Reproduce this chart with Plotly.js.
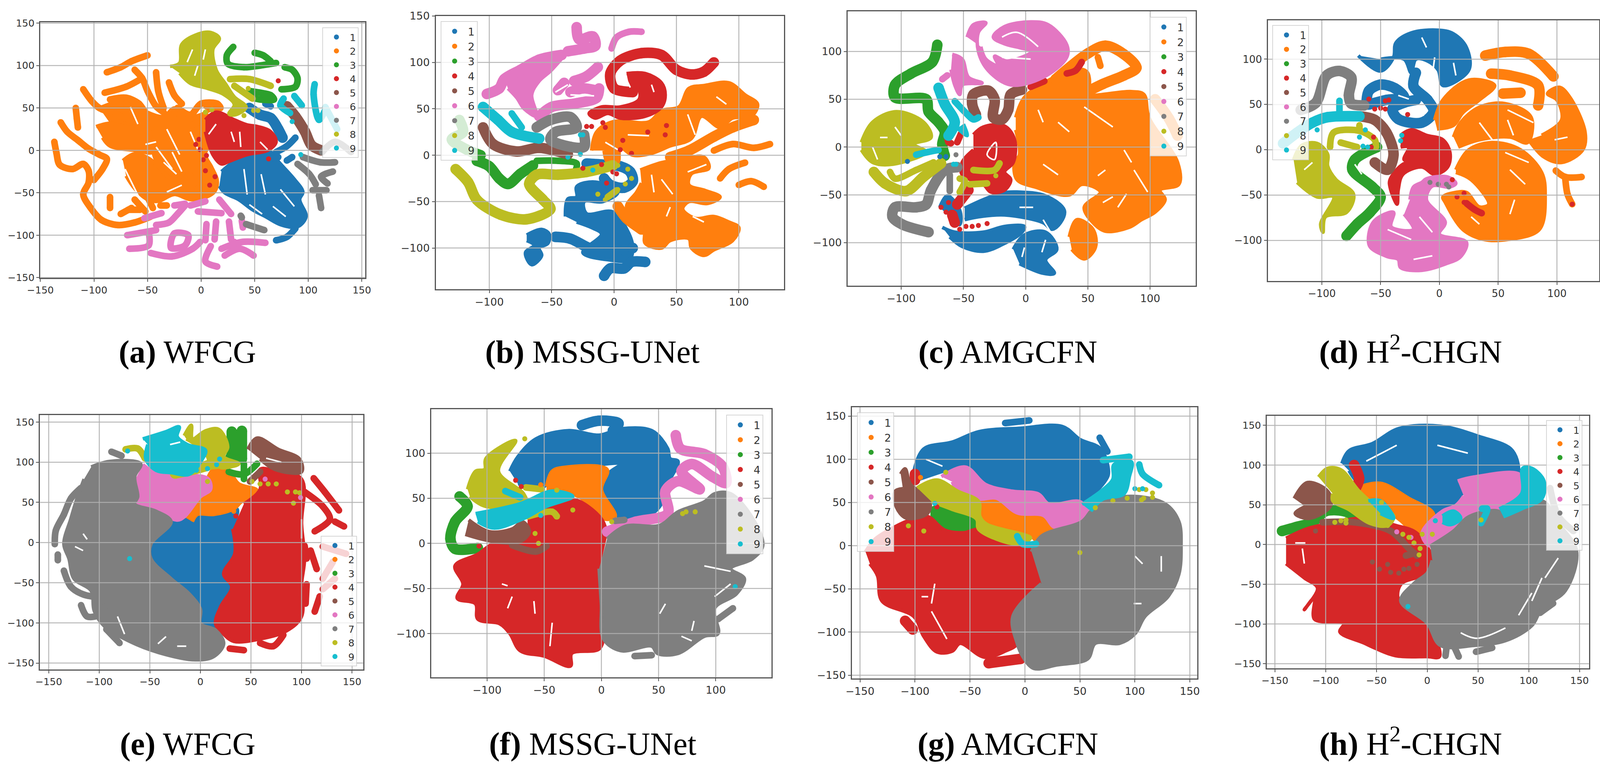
<!DOCTYPE html>
<html><head><meta charset="utf-8"><script src="https://cdn.plot.ly/plotly-3.0.1.min.js"></script>
<style>html,body{margin:0;padding:0;background:#fff;overflow:hidden}</style></head><body><div id="g"></div>
<script>
const classes=['1','2','3','4','5','6','7','8','9'];
const captions=['<b>(a)</b> WFCG','<b>(b)</b> MSSG-UNet','<b>(c)</b> AMGCFN','<b>(d)</b> H<sup>2</sup>-CHGN','<b>(e)</b> WFCG','<b>(f)</b> MSSG-UNet','<b>(g)</b> AMGCFN','<b>(h)</b> H<sup>2</sup>-CHGN'];
// ---- per panel, per class (index 0..8): outlines of solid regions, thick strands, thin strands, single points; Gaps = empty slits inside regions
const aAreas=[[[19,-25,31,-13,50,-2,65,-2,72,-13,87,-34,95,-49,92,-58,98,-78,90,-90,75,-88,60,-78,48,-70,35,-58,22,-50,17,-42]],
[[-73,-12,-62,-4,-48,-10,-38,-22,-25,-35,-18,-30,-12,-15,-5,10,3,25,8,10,4,-5,10,-20,15,-35,13,-48,5,-55,-10,-58,-25,-52,-40,-60,-50,-58,-62,-45,-70,-30],[-98,28,-85,32,-70,28,-55,25,-45,12,-45,-2,-62,0,-85,5,-92,15],[-50,45,-35,40,-25,50,-10,40,5,45,15,55,18,50,5,45,5,30,3,25,-5,10,-12,-15,-18,-30,-25,-35,-38,-22,-45,-2,-48,25],[-95,50,-75,58,-62,55,-52,45,-48,25,-70,28,-85,32]],
[],[[4,36,14,45,31,36,43,30,53,28,65,22,70,10,62,0,43,-5,26,-13,19,-16,11,-5,4,22]],[],[],[],
[[-29,99,-20,103,-18,125,-3,137,9,139,17,132,11,119,14,95,23,78,31,63,42,51,32,42,26,43,31,54,21,66,6,73,-10,79,-20,91]],[]];
const aThick=[[[45,50,55,42,65,38,72,25,76,15]],[],[],[],[[80,52,88,40,97,22,103,6,112,0]],[],[],[],[]];
const aRibbons=[[[70,-106,80,-102,88,-92],[60,55,65,52],[70,-2,80,5,88,15],[65,-10,72,-8],[80,-12,85,-8]],
[[-137,10,-135,-3,-132,-17,-120,-22,-110,-16,-105,-24,-105,-38,-110,-52,-103,-68,-93,-82,-78,-88,-62,-85,-47,-78],[-131,33,-125,22,-115,12,-105,2,-95,-5,-88,-10,-92,-22,-100,-35],[-117,50,-116,38,-115,27],[-110,72,-102,58,-95,50,-85,45,-75,40,-65,35],[-88,92,-75,98,-65,105,-50,112],[-90,68,-70,75,-55,85],[-85,60,-70,62,-58,55,-50,40,-42,25],[-62,95,-55,85,-50,70,-42,52,-35,45],[-42,92,-40,70,-35,50],[-30,80,-25,65,-18,55],[-70,55,-62,40,-50,30],[-75,-75,-65,-68],[-85,-55,-85,-68],[-68,-70,-57,-70],[-62,-58,-52,-72],[-50,-55,-45,-68],[-38,-65,-32,-65],[-22,50,-10,42,0,55,15,55,18,50,5,52],[-25,38,-15,20,-12,5],[-8,30,0,35,5,40],[-35,35,-30,15,-28,0],[-20,-5,-10,-30,-3,-45]],
[[30,122,24,112,25,102,40,98,55,100,70,103],[50,115,58,112,65,105],[78,98,85,95,90,85,88,75,75,72],[45,70,55,68,65,65,68,60,55,60,48,62]],
[],[],
[[-53,-80,-37,-74],[-42,-88,-30,-85,-22,-75,-15,-65],[-69,-100,-42,-94],[-67,-116,-49,-112,-49,-96],[-47,-121,-27,-125,-8,-116,-1,-108],[-25,-98,-12,-100,-15,-112,-28,-115,-25,-98],[14,-84,12.6,-105],[5,-87,4,-106],[-3,-72,19,-74],[-10,-65,4,-60],[-25,-65,-15,-63],[17,-58,28,-75],[26,-84,28,-105],[38,-83,39,-91],[19,-116,38,-108,60,-109],[22,-124,36,-116,49,-124],[31,-108,36,-116],[9,-113,4,-131,15,-137]],
[[37,-77,38,-79],[42,-87,59,-94],[95,-8,111,-14,125,-14],[90,-16,101,-28,107,-40],[123,-25,112,-31,118,-39],[104,-47,117,-47],[110,-53,112,-68],[113,-2,125,10,140,-2]],
[[27,84,45,84,65,76],[31,76,48,61]],
[[77,61,74,53,83,44],[87,64,94,53],[106,78,105,66,110,36,116,48],[116,51,127,25]]];
const aDots=[[],[],[],[-5,7,-2,13,-1,1,2,-11,5,-6,4,-24,13,-31,8,-41,63,-10,72,82],[],[],[],[4,45,10,48,40,41,49,47,53,47,44,73],[85,34,93,-5]];
const aGaps=[[-42,4,-27,-22],[-35,-14,-23,-28],[-27,-2,-18,-25],[-52,7,-42,10],[-66,51,-59,31],[-32,25,-20,-5],[-10,22,-3,1],[-71,-22,-57,-58],[-18,-41,-32,-49],[40,-22,43,-52],[56,-28,60,-52],[67,-66,79,-78],[45,-64,57,-75],[74,-46,87,-66],[28,22,31,10],[14,31,7,19],[36,22,37,4],[55,10,62,1],[-8,119,-13,104],[4,119,2,107],[-3,100,-6,88]];

const bAreas=[[[-70,-86,-58,-80,-52,-85,-53,-95,-60,-100,-58,-108,-66,-118,-71,-105,-64,-97,-70,-92],[-39,-66,-37,-47,-30,-45,-30,-34,-20,-29,-8,-31,3,-40,-9,-50,-24,-50,-22,-63,-1,-61,11,-82,15,-100,12,-113,-3,-113,-25,-105,-10,-85,-18,-78,-30,-72]],
[[-18,5,-14,25,-1,36,28,36,38,48,52,52,60,72,72,75,92,78,105,65,115,55,110,42,95,40,85,30,70,42,62,18,45,10,30,2,15,0,5,8,3,-8,-5,-8,-8,5],[21,-16,38,-8,55,-4,72,-2,76,-14,62,-20,60,-32,73,-38,85,-45,75,-52,60,-50,55,-58,65,-68,80,-66,92,-72,100,-78,95,-92,80,-102,72,-108,62,-100,60,-90,45,-92,38,-100,25,-95,24,-82,15,-70,10,-55,18,-40,22,-30]],
[],[[10,88,25,88,38,78,41,65,38,52,25,42,5,40,-5,45,-15,40,-20,45,-10,52,5,52,20,60,20,70,12,75]],[],
[[-88,82,-60,105,-40,110,-50,92,-60,80,-66,65,-62,42,-72,50,-78,62,-85,72]],[],[],[]];
const bThick=[[[-47,-88,-35,-90,-20,-100,-5,-105,8,-102,15,-100],[-8,-130,-3,-122,8,-122,14,-115,25,-115],[-22,-9,-10,-10,5,-12,13,-18,15,-28,8,-35,-3,-32,-8,-25]],
[[45,-2,60,5,80,20,95,30,112,38],[3,-55,10,-68,22,-80]],
[[-110,-6,-100,-12,-92,-25,-85,-31,-75,-20,-65,-11],[-124,38,-121,25,-130,17,-118,6,-107,0]],
[[80,100,72,90,62,87,50,92,38,108,22,110,5,102,-3,88,0,72,15,68]],
[[-105,30,-97,12,-78,4,-60,8,-37,1]],
[[-102,66,-92,72,-88,82,-75,92,-60,103,-42,108],[-60,42,-50,52,-30,56,-14,62,-12,72],[-32,80,-22,85,-13,95],[-35,68,-25,72,-15,70],[-45,70,-40,78],[-37,112,-24,115,-15,118,-17,128,-28,125,-30,138]],
[[-62,30,-51,38,-35,41,-30,30,-47,25,-51,17,-35,9,-24,9,-24,22]],
[[-127,-15,-117,-29,-110,-48,-91,-64,-70,-69,-51,-58,-57,-48,-68,-31,-62,-21,-45,-21,-22,-18,-1,-11]],
[[-105,52,-93,38,-82,25,-60,18]]];
const bRibbons=[[],[[80,5,95,12,112,8,125,12],[100,-32,110,-28,120,-34],[85,-25,92,-15,105,-8]],
[[-62,-6,-45,-6,-30,-9,-31,-17]],[],[],[[-2,115,2,127,12,133,22,133]],[],[[2,-38,-5,-45]],[[-82,45,-74,30]]];
const bDots=[[],[],[],[-22,31,-18,31,-9,35,-7,30,27,25,42,32,41,22,7,16,5,6,14,2,-10,-10,-25,-14,-1,-18,2,-20,-6,-30],[],[],[],[3,-11,11,-15,14,-25,9,-31,3,-37,-5,-45,-7,-48,-13,-42],[-27,22,-25,22,-37,-2,-27,1,-17,-16]];
const bGaps=[[-7,14,3,6],[11,22,28,21],[59,44,65,22],[82,63,90,55],[30,-21,32,-40],[38,-26,47,-42],[59,-18,74,-10],[45,-56,42,-66],[63,-66,72,-72],[-47,68,-37,76],[-64,60,-43,64],[-35,65,-16,64],[7,90,13,73],[30,76,32,68]];

const cAreas=[[[-49,-64,-34,-55,-19,-48,-7,-47,16,-51,31,-66,28,-79,21,-86,14,-79,-17,-71,-38,-73,-49,-76],[-67,-84,-57,-89,-34,-89,-17,-83,-1,-83,-3,-89,-19,-102,-34,-109,-51,-104,-61,-94],[-10,-107,-1,-92,16,-89,25,-107,16,-118,23,-132,14,-132,-5,-122],[-69,-63,-63,-51,-53,-66,-53,-81,-59,-76]],
[[-8,31,-1,52,20,71,37,81,49,79,51,64,47,55,85,58,95,55,99,31,122,-16,123,-39,108,-45,112,-55,104,-68,93,-76,83,-84,64,-88,54,-79,47,-63,60,-47,45,-39,35,-50,8,-42,-7,-34,-9,-16,-5,-8,-8,18],[35,-94,41,-76,54,-86,56,-105,47,-117,37,-107]],
[],[[-42,13,-34,21,-17,22,-9,8,-10,-16,-17,-26,-12,-34,-17,-45,-28,-47,-34,-39,-51,-29,-51,-16,-42,-3]],[],
[[-47,115,-42,128,-32,130,-38,120,-38,100,-30,80,-12,65,14,73,33,94,33,107,18,128,4,131,-17,126,-26,115,-17,108,-5,104,5,100,-15,90,-25,95,-22,85,-32,92,-36,105],[-59,97,-51,92,-46,73,-35,67,-51,65,-53,55,-57,65,-60,81]],
[],[[-132,5,-123,26,-104,37,-82,26,-76,10,-90,3,-80,-5,-107,-18,-123,-16,-132,-3]],[[-50,24,-47,12,-55,20]]];
const cThick=[[],[[24,71,50,98,64,106,79,97,89,83,79,75,62,66,45,55],[104,50,115,30,122,12]],
[[-71,107,-75,89,-92,77,-105,65,-105,52,-80,50,-78,37,-70,26,-65,16,-67,3,-65,-9]],[[-46,-45,-55,-60],[-59,-71,-57,-79]],
[[-40,34,-43,45,-42,55,-30,59,-25,50,-26,31,-19,29,-14,39,-12,55,-3,60]],[],
[[-55,-21,-65,-24,-76,-45,-80,-60,-88,-63,-105,-63,-107,-73,-99,-81,-78,-89]],
[[-122,-26,-113,-38,-96,-46,-82,-31,-68,-17]],[[-70,62,-65,45,-57,26,-62,12]]];
const cRibbons=[[],[[58,94,60,85]],[],[[-63,12,-62,5,-60,4],[-52,14,-55,5],[4,63,15,69],[33,77,40,80,45,89]],[],[[-67,71,-63,75]],[[-61,-29,-61,-46]],
[[-109,-26,-105,-33,-88,-24,-74,-16],[-42,-24,-25,-24,-21,-17],[-53,-33,-49,-35,-53,-47],[-45,-39,-31,-38]],
[[-57,48,-49,37,-42,29,-38,31],[-88,-8,-78,-5,-70,-3]]];
const cDots=[[-95,-15,-69,-10,-64,-10],[],[],[-68,-63,-62,-58,-64,-68,-53,-86,-48,-83,-43,-83,-38,-82,-31,-80],[],[],[-56,-8],[-24,-30],[-56,-18,-58,-18]];
const cGaps=[[10,39,14,26],[26,26,35,16],[47,42,70,21],[79,-3,85,-16],[14,-18,26,-29],[64,-24,58,-30],[62,-58,70,-52],[74,-63,81,-49],[87,-24,98,-47],[-5,-63,6,-63],[14,-76,20,-89],[-1,-105,-3,-115],[13,-110,16,-97],[-24,5,-31,-8,-25,-13,-24,5],[-19,115,-7,120,10,105],[-19,94,4,92],[-117,10,-111,10],[-105,21,-100,12],[-123,0,-119,-13]];

const dAreas=[[[-69,104,-50,87,-39,102,-37,118,-24,129,-1,132,12,128,23,113,25,88,3,71,-1,88,-10,98,-20,100,-24,85,-30,100,-50,100]],
[[14,-22,25,0,45,8,69,0,87,-25,90,-49,85,-88,58,-99,38,-99,20,-88,5,-58,3,-52,14,-47,23,-47,34,-63,42,-60,27,-33,14,-25],[12,14,18,30,34,47,56,51,78,36,75,8,60,14,34,11,16,3],[-4,33,3,55,25,77,47,71,34,55,20,41,12,27,-2,23],[76,11,89,-8,104,-14,122,0,124,19,111,58,102,69,92,62,100,55,104,33,87,16]],
[],[[-33,16,-24,22,-11,16,3,11,9,-3,7,-19,-4,-27,-15,-19,-31,-27,-35,-44,-36,-60,-42,-41,-42,-33,-31,-16,-17,-11,-30,-11,-26,3,-33,3]],[],
[[-25,-55,-22,-41,-15,-36,-11,-32,7,-30,14,-37,9,-41,-6,-40,-11,-55,5,-80,0,-93,23,-102,18,-118,5,-126,-15,-133,-33,-130,-35,-121,-44,-118,-59,-107,-60,-93,-55,-78,-39,-69,-41,-85,-22,-88,-30,-71]],
[],[[-124,-11,-117,5,-104,7,-95,-5,-95,-18,-88,-33,-73,-49,-79,-69,-97,-74,-99,-91,-101,-82,-90,-52,-104,-52,-121,-36]],[]];
const dThick=[[[-20,85,-22,70,-10,55,-5,42,-15,30,-35,34,-40,45,-30,52,-20,55],[-62,50,-60,65,-50,72,-38,68,-30,58,-45,55,-60,50]],
[[39,104,56,108,76,106,97,81],[44,84,60,82,84,71,84,49],[54,62,69,63]],
[[-53,3,-72,-11,-74,-22,-57,-41,-50,-52,-59,-69,-70,-82,-79,-95]],[],
[[-68,37,-55,33,-45,19,-39,-5,-44,-22,-55,-14]],[],
[[-118,44,-105,52,-96,82,-85,87,-75,80,-77,60,-75,51,-64,49]],[],
[[-68,37,-95,36,-108,30,-121,19,-133,7]]];
const dRibbons=[[],[[99,-23,107,-30,121,-30],[107,-30,109,-49,113,-60]],[],[[23,-59,30,-66,36,-70]],[],[],[],
[[-93,3,-90,19,-68,21,-55,11,-54,3],[-84,8,-70,3],[-68,21,-68,27]],[[-85,54,-85,38]]];
const dDots=[[],[],[],[-60,56,-55,45,-50,46,-46,45,-46,54,-43,55,-27,39,-56,14,-58,3,15,-52,21,-48,21,-58,36,-70,113,-60,11,-33],[],[],[-8,-36,-1,-38,6,-38,8,-41],[],[-104,22,-63,22,-68,14,-65,4,-61,3,-32,16,-33,10]];
const dGaps=[[-15,124,-11,113],[12,96,14,82],[-4,102,-6,82],[-35,60,-26,56],[-21,41,-13,38],[60,-22,73,-38],[64,-55,60,-71],[27,-74,34,-82],[34,30,45,11],[58,44,80,30],[58,33,63,16],[98,11,109,14],[56,-3,76,-14],[-115,-22,-108,-14],[-72,-16,-66,-27],[-44,-88,-24,-99],[-22,-121,-6,-117],[-17,-74,-6,-91]];

const eAreas=[[[-29,26,-13,32,2,35,36,42,32,17,34,-14,23,-39,31,-55,20,-80,15,-98,13,-106,2,-104,0,-83,-11,-64,-29,-45,-49,-20,-49,-2]],
[[-16,32,0,57,13,91,28,88,38,73,56,65,49,54,41,51,33,42,13,35,-3,35,-8,26]],[],
[[43,48,59,66,59,91,72,90,100,79,100,23,103,-20,100,-52,100,-92,85,-110,59,-120,33,-123,23,-114,15,-101,20,-80,31,-55,23,-39,34,-14,32,17]],
[[47,116,56,130,77,116,98,104,100,88,74,91,59,104]],
[[-57,97,-41,85,7,80,10,66,0,57,-16,32,-23,28,-44,39,-65,48,-62,66,-63,82]],
[[-108,94,-90,101,-59,98,-65,82,-62,57,-65,48,-44,39,-29,26,-49,-2,-49,-20,-29,-45,-11,-64,0,-83,0,-101,15,-109,23,-126,13,-142,-5,-146,-41,-137,-70,-123,-95,-104,-105,-85,-108,-60,-125,-45,-130,-20,-135,-2,-128,30,-122,55,-115,79]],
[[-16,133,-9,146,-8,129,5,139,18,141,27,119,23,107,38,98,23,93,18,94,10,94,7,107,-5,122,-14,129]],
[[-57,129,-34,138,-21,144,-23,132,-13,122,5,115,2,104,-11,85,-29,87,-44,90,-54,104,-52,122]]];
const eThick=[[],[],[[31,138,31,104],[41,139,41,104]],[],[],[],[],[[-25,86,-10,90,5,95,15,100]],[]];
const eRibbons=[[],[],[[28,107,36,104],[28,88,43,85,56,98],[43,98,43,79],[75,84,72,86]],
[[112,80,123,63,137,40],[103,63,121,45,128,29,113,14],[133,26,142,20],[121,-5,144,-14],[131,-24,121,-45],[121,-58,133,-45],[118,-67,113,-86],[105,-52,104,-76],[103,-4,105,-20],[109,-10,115,-33],[59,-125,72,-129,82,-115],[29,-132,43,-134]],
[[49,76,59,88]],[],
[[-144,-2,-143,15,-135,35,-128,55,-118,68],[-141,-22,-141,-15],[-135,-35,-128,-55,-115,-65,-100,-68],[-118,-78,-112,-92,-100,-90,-95,-80,-85,-75],[-93,-108,-80,-125],[-88,113,-78,108]],
[[-74,116,-62,117,-55,105]],[]];
const eDots=[[],[33,39],[],[35,33],[],[64,79,99,56],[],[7,76,51,76,59,73,67,73,75,73,86,63,94,63,98,62,92,49],[-70,-20,-72,114,0,104,19,104,16,97,7,92,-4,90,-8,107,-8,98]];
const eGaps=[[-34,-117,-42,-126],[-23,-129,-14,-129],[-82,-92,-75,-114],[-116,11,-112,4],[-124,-5,-116,-10],[100,29,100,5],[-30,122,-20,125],[65,105,80,100]];

const fAreas=[[[-80,80,-73,96,-57,116,-29,125,-2,120,17,127,44,125,58,105,60,94,67,91,58,66,51,41,37,28,21,27,12,33,2,55,6,77,17,88,-4,87,-27,82,-39,84,-47,74,-50,63,-66,66,-73,66]],
[[-48,63,-43,80,-34,84,5,82,0,60,12,30,3,27,-20,52,-48,58]],[],
[[5,8,0,27,-25,49,-48,41,-62,30,-64,5,-94,0,-108,-12,-128,-25,-121,-45,-126,-61,-110,-67,-108,-84,-89,-89,-80,-100,-71,-119,-50,-125,-27,-136,-26,-122,-2,-117,2,-100,-2,-61,-1,-25]],
[[-116,26,-98,13,-78,16,-69,24,-63,13,-71,2,-94,2,-119,10]],[],
[[5,5,21,19,51,20,67,35,90,46,99,55,113,55,134,24,141,-3,132,-17,113,-28,125,-39,118,-56,99,-72,102,-100,90,-103,67,-122,49,-122,44,-114,17,-119,2,-106,0,-67,-2,-28]],
[[-117,60,-110,80,-102,82,-101,94,-75,114,-90,80,-68,55,-66,46,-101,41,-115,52]],
[[-110,33,-71,44,-43,58,-25,52,-48,41,-69,27,-94,17,-108,24]]];
const fThick=[[[-17,131,-2,136,15,133,10,125]],[],[[-124,52,-117,41,-128,24,-132,5,-128,-6,-108,-5]],[],[],
[[65,120,69,105,90,99,106,85,109,67,97,74,79,88,70,80,86,60,67,69,56,58,58,33,30,24,5,13]],[],[],[]];
const fRibbons=[[],[],[],[],[[-78,-2,-57,-9,-48,-3]],[],[[29,-125,44,-124],[102,-84,115,-72],[12,25,20,26]],[[-66,62,-52,60],[-64,30,-43,35,-39,30]],[[-84,58,-71,51]]];
const fDots=[[],[-53,65],[],[-75,70,-70,63,-107,-3],[],[],[],[-67,116,-39,59,-25,37,-58,11,-55,0,9,24,71,33,74,35,82,35],[-53,31,117,-48]];
const fGaps=[[90,-25,113,-31],[56,-67,51,-78],[81,-86,79,-97],[70,-103,79,-108],[99,-59,113,-45],[-59,-64,-58,-78],[-78,-59,-82,-72],[-43,-88,-45,-114],[-87,-45,-82,-47]];

const gAreas=[[[-101,86,-92,112,-66,120,-42,132,-4,136,34,138,50,123,69,112,76,86,74,77,52,51,22,48,10,60,-11,63,-35,71,-49,89,-61,91,-75,86,-96,77]],
[[-41,51,-26,54,-7,37,17,34,25,21,12,5,5,12,-11,19,-35,28,-41,40]],
[[-86,42,-80,45,-66,40,-44,28,-44,21,-56,15,-73,18,-86,34]],
[[-145,-7,-136,8,-118,22,-106,29,-89,34,-73,18,-56,15,-42,19,-4,2,5,-4,15,-44,-11,-82,-7,-113,-18,-122,-37,-129,-59,-113,-66,-122,-80,-123,-92,-105,-101,-82,-130,-64,-134,-35,-141,-21]],
[[-113,83,-109,89,-104,71,-89,57,-86,48,-89,37,-108,32,-117,45,-118,63,-111,66]],
[[-76,80,-54,91,-36,71,-11,63,12,60,22,48,50,51,57,40,52,27,34,21,26,22,17,35,-7,38,-26,55,-42,54,-61,63,-66,74]],
[[6,-7,15,11,52,28,60,40,69,51,100,57,128,48,140,28,142,-1,140,-33,130,-59,109,-82,100,-102,86,-113,64,-113,57,-131,29,-138,8,-142,-2,-128,-7,-113,-11,-82,15,-44]],
[[-98,67,-80,76,-61,63,-42,51,-41,34,-35,25,5,9,-7,2,-42,19,-44,31,-66,42,-85,51]],
[[52,48,71,65,80,77,81,94,97,97,95,80,90,60,71,54,60,40]]];
const gThick=[[],[],[],[[-33,-136,-4,-131],[-109,-87,-102,-97],[-100,83,-100,76]],[],[],[],[],[]];
const gRibbons=[[[-18,142,4,145],[68,125,75,109]],[],[],[],[],[],[],[],[[71,99,95,103],[104,94,107,83,122,70],[-7,11,-2,2,10,2]]];
const gDots=[[],[-95,79],[],[-80,45],[],[],[],[-72,85,-106,23,-92,17,50,-8,64,44,80,52,93,55,106,53,108,55,116,61,116,56,110,65,104,65],[100,66,107,66,-82,49]];
const gGaps=[[100,-12,107,-21],[124,-12,124,-30],[106,-67,99,-67],[-82,-44,-85,-67],[-94,-59,-88,-59],[-85,-76,-71,-108],[-90,100,-75,92]];

const hAreas=[[[-84,102,-77,118,-54,127,-28,146,13,149,51,136,84,118,88,86,36,85,33,61,8,39,-15,55,-41,77,-64,74,-77,93]],
[[-70,71,-46,77,-18,58,6,39,3,20,-8,11,-26,30,-41,45,-64,64]],[],
[[-139,8,-118,20,-93,27,-64,33,-31,24,-10,14,5,-20,0,-36,-26,-50,-28,-71,0,-99,12,-141,0,-141,-31,-140,-52,-130,-62,-124,-86,-110,-82,-99,-111,-94,-111,-67,-121,-82,-108,-55,-121,-42,-139,-24]],
[[-131,58,-118,78,-98,67,-95,49,-116,33,-130,39,-120,48]],
[[30,80,46,85,91,88,91,67,70,45,41,35,26,20,3,-2,-5,14,15,42,28,49,36,61]],
[[3,-2,26,17,41,35,70,42,75,35,113,55,129,27,147,-8,136,-58,113,-80,103,-102,77,-121,46,-127,13,-127,0,-99,-26,-71,-13,-49,0,-36,5,-20]],
[[-107,85,-98,96,-85,94,-67,67,-51,49,-33,36,-39,24,-57,27,-77,44,-93,55,-93,64]],
[[-58,55,-46,55,-33,33,-46,39],[15,36,26,42,33,33,23,25,15,28],[71,45,93,64,94,96,103,96,115,80,113,58,93,45,75,35]]];
const hThick=[[],[],[[-143,17,-129,22,-113,28,-100,42,-82,42,-67,33]],[[-72,100,-67,83,-70,72]],[],[],[],[],[]];
const hRibbons=[[],[],[],[],[[-103,28,-72,28,-36,17,-18,-5,-10,-14],[-21,-14,-13,-11]],[],
[[121,71,129,36,144,17],[124,-74,111,-86],[48,-135,64,-130],[18,-140,19,-130],[31,-141,26,-127]],[],[[54,45,59,45,53,27]]];
const hDots=[[],[],[],[],[-110,17,-54,-22,-47,-31,-39,-25,-36,-35,-28,-36,-23,-31,-18,-30,-10,-25],[-30,16,-16,9],[],[-91,28,-85,30,-80,31,-80,27,-24,13,-18,9,-5,13,5,13,-13,2,-7,-5,-8,-13,-39,24,-45,53,53,31],[8,30,-19,-78]];
const hGaps=[[103,-61,90,-89],[77,-105,49,-118,33,-111],[113,-42,103,-71],[129,-17,116,-42],[-130,2,-120,2],[-123,-5,-121,-24],[-60,105,-30,125],[10,125,40,115]];

const panelData=[[aAreas,aThick,aRibbons,aDots,aGaps],[bAreas,bThick,bRibbons,bDots,bGaps],[cAreas,cThick,cRibbons,cDots,cGaps],[dAreas,dThick,dRibbons,dDots,dGaps],[eAreas,eThick,eRibbons,eDots,eGaps],[fAreas,fThick,fRibbons,fDots,fGaps],[gAreas,gThick,gRibbons,gDots,gGaps],[hAreas,hThick,hRibbons,hDots,hGaps]];

// ---- layout, in pixels of the 4318x1983 reference; scaled to the actual window width -- not data
const REFW=4318,W=Math.min(window.innerWidth||REFW,REFW),H=1983;
const frames=[[109,986,57,711],[1176,2116,41,740],[2288,3227,29,731],[3422,4316,52,719],[108,980,1062,1713],[1164,2082,1047,1733],[2299,3231,1042,1736],[3419,4288,1064,1710]];
const ranges=[[[-150,153.3],[-150.3,151]],[[-142.9,136.25],[-144.4,150]],[[-142.9,136.6],[-145,142]],[[-145.8,136],[-144.8,142.9]],[[-158.6,160.9],[-158,158.7]],[[-148.7,148.7],[-148.5,148.8]],[[-157.4,156.7],[-153.7,160.3]],[[-157.9,159.2],[-155.8,162]]];
const legendPos=[[870,70,25],[1189,54,27],[3103,43,27],[3434,64,26],[866,1371,25],[1960,1061,27],[2313,1055,27],[4172,1075,25]];
const capPos=[[506,930],[1599,930],[2720,930],[3807,930],[507,1933],[1600,1933],[2720,1933],[3807,1933]];
const colors=['#1f77b4','#ff7f0e','#2ca02c','#d62728','#8c564b','#e377c2','#7f7f7f','#bcbd22','#17becf'];

const flat=(paths)=>{const x=[],y=[];paths.forEach((p,i)=>{if(i){x.push(null);y.push(null);}for(let j=0;j<p.length;j+=2){x.push(p[j]);y.push(p[j+1]);}});return [x,y];};
const traces=[];const layout={width:W,height:H,margin:{l:0,r:0,t:0,b:0,autoexpand:false},paper_bgcolor:'#fff',plot_bgcolor:'#fff',shapes:[],annotations:[],font:{family:'DejaVu Sans',color:'#333'}};
frames.forEach((f,p)=>{
 const sx=p?String(p+1):'';const xa='x'+sx,ya='y'+sx;const leg='legend'+sx;
 const [areas,thick,ribs,dots,gaps]=panelData[p];const fs=legendPos[p][2];
 const axis=(dom,rng,anc)=>({domain:dom,range:rng,anchor:anc,tick0:0,dtick:50,showgrid:false,zeroline:false,showline:true,mirror:true,linecolor:'#555',linewidth:3,ticks:'outside',ticklen:7,tickwidth:2,tickcolor:'#555',tickfont:{family:'DejaVu Sans',size:fs,color:'#333'},automargin:false});
 layout['xaxis'+sx]=axis([f[0]/REFW,f[1]/REFW],ranges[p][0],ya);
 layout['yaxis'+sx]=axis([1-f[3]/H,1-f[2]/H],ranges[p][1],xa);
 for(let v=-150;v<=150;v+=50){
  if(v>ranges[p][0][0]&&v<ranges[p][0][1])layout.shapes.push({type:'line',layer:'above',xref:xa,yref:ya+' domain',x0:v,x1:v,y0:0,y1:1,line:{color:'rgba(176,176,176,0.9)',width:2.5}});
  if(v>ranges[p][1][0]&&v<ranges[p][1][1])layout.shapes.push({type:'line',layer:'above',xref:xa+' domain',yref:ya,x0:0,x1:1,y0:v,y1:v,line:{color:'rgba(176,176,176,0.9)',width:2.5}});
 }
 classes.forEach((c,k)=>{
  if(areas[k]&&areas[k].length){const [x,y]=flat(areas[k]);traces.push({type:'scatter',mode:'lines',x,y,xaxis:xa,yaxis:ya,fill:'toself',fillcolor:colors[k],line:{color:colors[k],width:9,shape:'spline',smoothing:1},showlegend:false,hoverinfo:'skip',legend:leg});}
  if(thick[k]&&thick[k].length){const [x,y]=flat(thick[k]);traces.push({type:'scatter',mode:'lines+markers',x,y,xaxis:xa,yaxis:ya,line:{color:colors[k],width:27,shape:'spline',smoothing:0.9},marker:{color:colors[k],size:27},showlegend:false,hoverinfo:'skip',legend:leg});}
  if(ribs[k]&&ribs[k].length){const [x,y]=flat(ribs[k]);traces.push({type:'scatter',mode:'lines+markers',x,y,xaxis:xa,yaxis:ya,line:{color:colors[k],width:17,shape:'spline',smoothing:0.9},marker:{color:colors[k],size:17},showlegend:false,hoverinfo:'skip',legend:leg});}
 });
 const g=flat(gaps);
 traces.push({type:'scatter',mode:'lines',x:g[0],y:g[1],xaxis:xa,yaxis:ya,line:{color:'#fff',width:4,shape:'spline'},showlegend:false,hoverinfo:'skip',legend:leg});
 classes.forEach((c,k)=>{
  const d=dots[k]&&dots[k].length?flat([dots[k]]):[[null],[null]];
  traces.push({type:'scatter',mode:'markers',x:d[0],y:d[1],name:c,xaxis:xa,yaxis:ya,marker:{color:colors[k],size:13},showlegend:true,legend:leg,hoverinfo:'skip'});
 });
 layout[leg]={x:legendPos[p][0]/REFW,y:1-legendPos[p][1]/H,xanchor:'left',yanchor:'top',bgcolor:'rgba(255,255,255,0.8)',bordercolor:'rgba(204,204,204,0.8)',borderwidth:2,font:{family:'DejaVu Sans',size:fs,color:'#333'},itemwidth:58,itemsizing:'trace',traceorder:'normal'};
 layout.annotations.push({xref:'paper',yref:'paper',x:capPos[p][0]/REFW,y:1-capPos[p][1]/H,xanchor:'center',yanchor:'bottom',yshift:-18,showarrow:false,text:captions[p],font:{family:'Liberation Serif',size:82,color:'#000'}});
});
Plotly.newPlot('g',traces,layout,{staticPlot:true,displayModeBar:false});
</script></body></html>
